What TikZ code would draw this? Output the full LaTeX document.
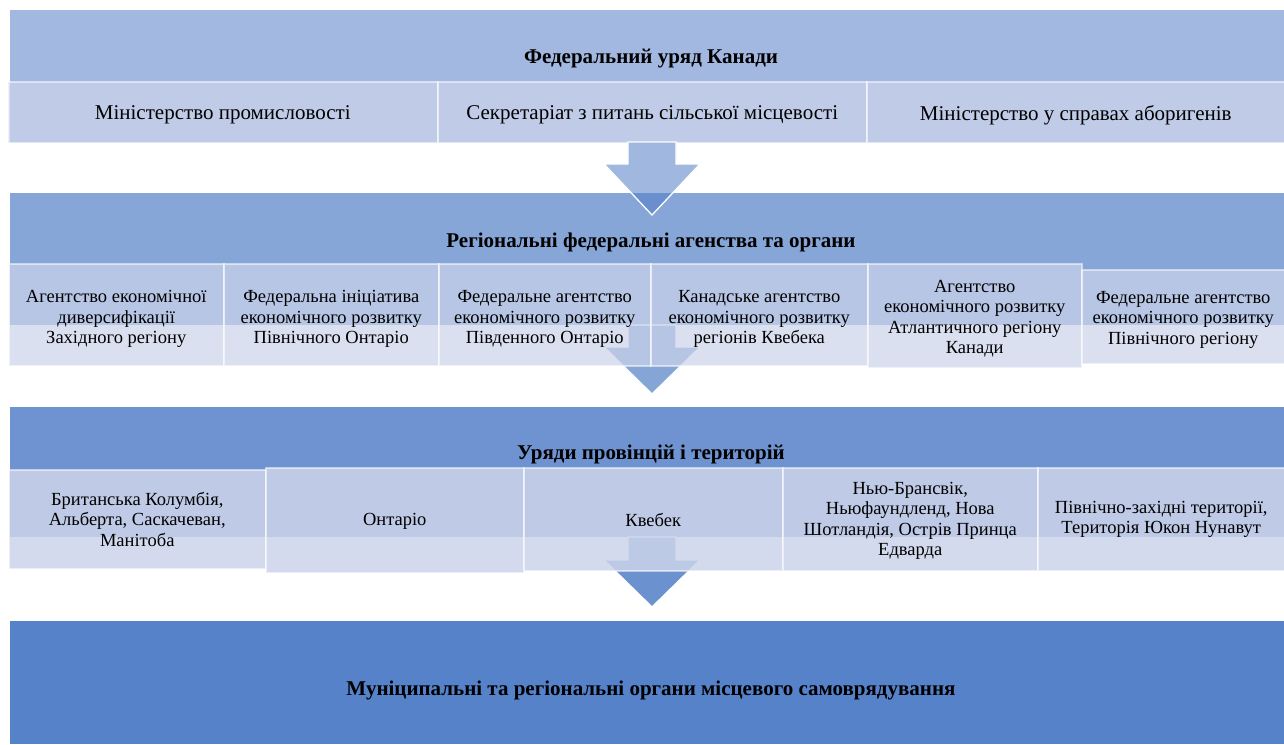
\documentclass[tikz,border=0pt]{standalone}
\usepackage{fontspec}
\setmainfont{Liberation Serif}
\begin{document}
\begin{tikzpicture}[x=1pt,y=-1pt,
  bandbox/.style={draw=none, inner sep=0pt, anchor=north west},
  hdr/.style={font=\fontsize{21}{24}\selectfont\bfseries, inner sep=0pt},
  subbox/.style={fill={rgb,255:red,204;green,212;blue,234}, draw=white, draw opacity=0.55, line width=1.5pt,
     inner sep=0pt, anchor=north west},
  subA/.style={subbox, fill opacity=0.7},
  subB/.style={subbox, fill opacity=0.7},
  subC/.style={subbox, fill opacity=0.85},
  txtA/.style={inner sep=0pt, align=center, font=\fontsize{21}{24}\selectfont},
  txtB/.style={inner sep=0pt, align=center, font=\fontsize{18.5}{20.5}\selectfont},
  downarrow/.style={fill={rgb,255:red,80;green,125;blue,198}, draw=white, line width=1.3pt, draw opacity=1}
]
\definecolor{bandA}{RGB}{162,184,224}
\definecolor{bandB}{RGB}{135,166,216}
\definecolor{bandC}{RGB}{111,147,208}
\definecolor{bandD}{RGB}{86,130,202}
\useasboundingbox (0,0) rectangle (1284,744);
\fill[white] (0,0) rectangle (1284,744);

% band 1
\node[bandbox, fill=bandA, minimum width=1274pt, minimum height=133pt] (b1) at (10,10) {};
\node[subA, minimum width=430pt, minimum height=61pt] (s11) at (7,81) {};
\node[subA, minimum width=429pt, minimum height=61pt] (s12) at (437,81) {};
\node[subA, minimum width=418pt, minimum height=61pt] (s13) at (866,81) {};
\node[txtA] (t11) at ([yshift=-3pt]s11.center) {Міністерство промисловості};
\node[txtA] (t12) at ([yshift=-3pt]s12.center) {Секретаріат з питань сільської місцевості};
\node[txtA] (t13) at ([yshift=-3pt]s13.center) {Міністерство у справах аборигенів};
\node[hdr] (h1) at (651,59) {Федеральний уряд Канади};

% band 2
\node[bandbox, fill=bandB, minimum width=1274pt, minimum height=132pt] (b2) at (10,193) {};
\draw[downarrow, fill opacity=0.54] (628,142) -- (676,142) -- (676,164) -- (700,164) -- (652,215) -- (604,164) -- (628,164) -- cycle;
\draw[downarrow, fill opacity=0.69] (628,325) -- (676,325) -- (676,347) -- (700,347) -- (652,394) -- (604,347) -- (628,347) -- cycle;
\node[subB, minimum width=215pt, minimum height=102pt] (s21) at (8,263) {};
\node[subB, minimum width=215pt, minimum height=102pt] (s22) at (223,263) {};
\node[subB, minimum width=212pt, minimum height=102pt] (s23) at (438,263) {};
\node[subB, minimum width=217pt, minimum height=102pt] (s24) at (650,263) {};
\node[subB, minimum width=214pt, minimum height=104pt] (s25) at (867,263) {};
\node[subB, minimum width=203pt, minimum height=94pt] (s26) at (1081,269) {};
\node[txtB] (t21) at ([yshift=-4.5pt]s21.center) {Агентство економічної\\диверсифікації\\Західного регіону};
\node[txtB] (t22) at ([yshift=-4.5pt]s22.center) {Федеральна ініціатива\\економічного розвитку\\Північного Онтаріо};
\node[txtB] (t23) at ([yshift=-4.5pt]s23.center) {Федеральне агентство\\економічного розвитку\\Південного Онтаріо};
\node[txtB] (t24) at ([yshift=-4.5pt]s24.center) {Канадське агентство\\економічного розвитку\\регіонів Квебека};
\node[txtB] (t25) at ([yshift=-3pt]s25.center) {Агентство\\економічного розвитку\\Атлантичного регіону\\Канади};
\node[txtB] (t26) at ([yshift=-3pt]s26.center) {Федеральне агентство\\економічного розвитку\\Північного регіону};
\node[hdr] (h2) at (651,242) {Регіональні федеральні агенства та органи};

% band 3
\node[bandbox, fill=bandC, minimum width=1274pt, minimum height=130pt] (b3) at (10,407) {};
\draw[downarrow, fill opacity=0.84] (628,537) -- (676,537) -- (676,560) -- (700,560) -- (652,607) -- (604,560) -- (628,560) -- cycle;
\node[subC, minimum width=257pt, minimum height=99pt] (s31) at (8,469) {};
\node[subC, minimum width=258pt, minimum height=105pt] (s32) at (265,467) {};
\node[subC, minimum width=259pt, minimum height=103pt] (s33) at (523,467) {};
\node[subC, minimum width=255pt, minimum height=103pt] (s34) at (782,467) {};
\node[subC, minimum width=247pt, minimum height=103pt] (s35) at (1037,467) {};
\node[txtB] (t31) at (s31.center) {Британська Колумбія,\\Альберта, Саскачеван,\\Манітоба};
\node[txtB] (t32) at ([yshift=-1pt]s32.center) {Онтаріо};
\node[txtB] (t33) at ([yshift=-1pt]s33.center) {Квебек};
\node[txtB] (t34) at ([yshift=-1.5pt]s34.center) {Нью-Брансвік,\\Ньюфаундленд, Нова\\Шотландія, Острів Принца\\Едварда};
\node[txtB] (t35) at (s35.center) {Північно-західні території,\\Територія Юкон Нунавут};
\node[hdr] (h3) at (651,454) {Уряди провінцій і територій};

% band 4
\node[bandbox, fill=bandD, minimum width=1274pt, minimum height=123pt] (b4) at (10,621) {};
\node[hdr] (h4) at (651,690) {Муніципальні та регіональні органи місцевого самоврядування};
\end{tikzpicture}
\end{document}
